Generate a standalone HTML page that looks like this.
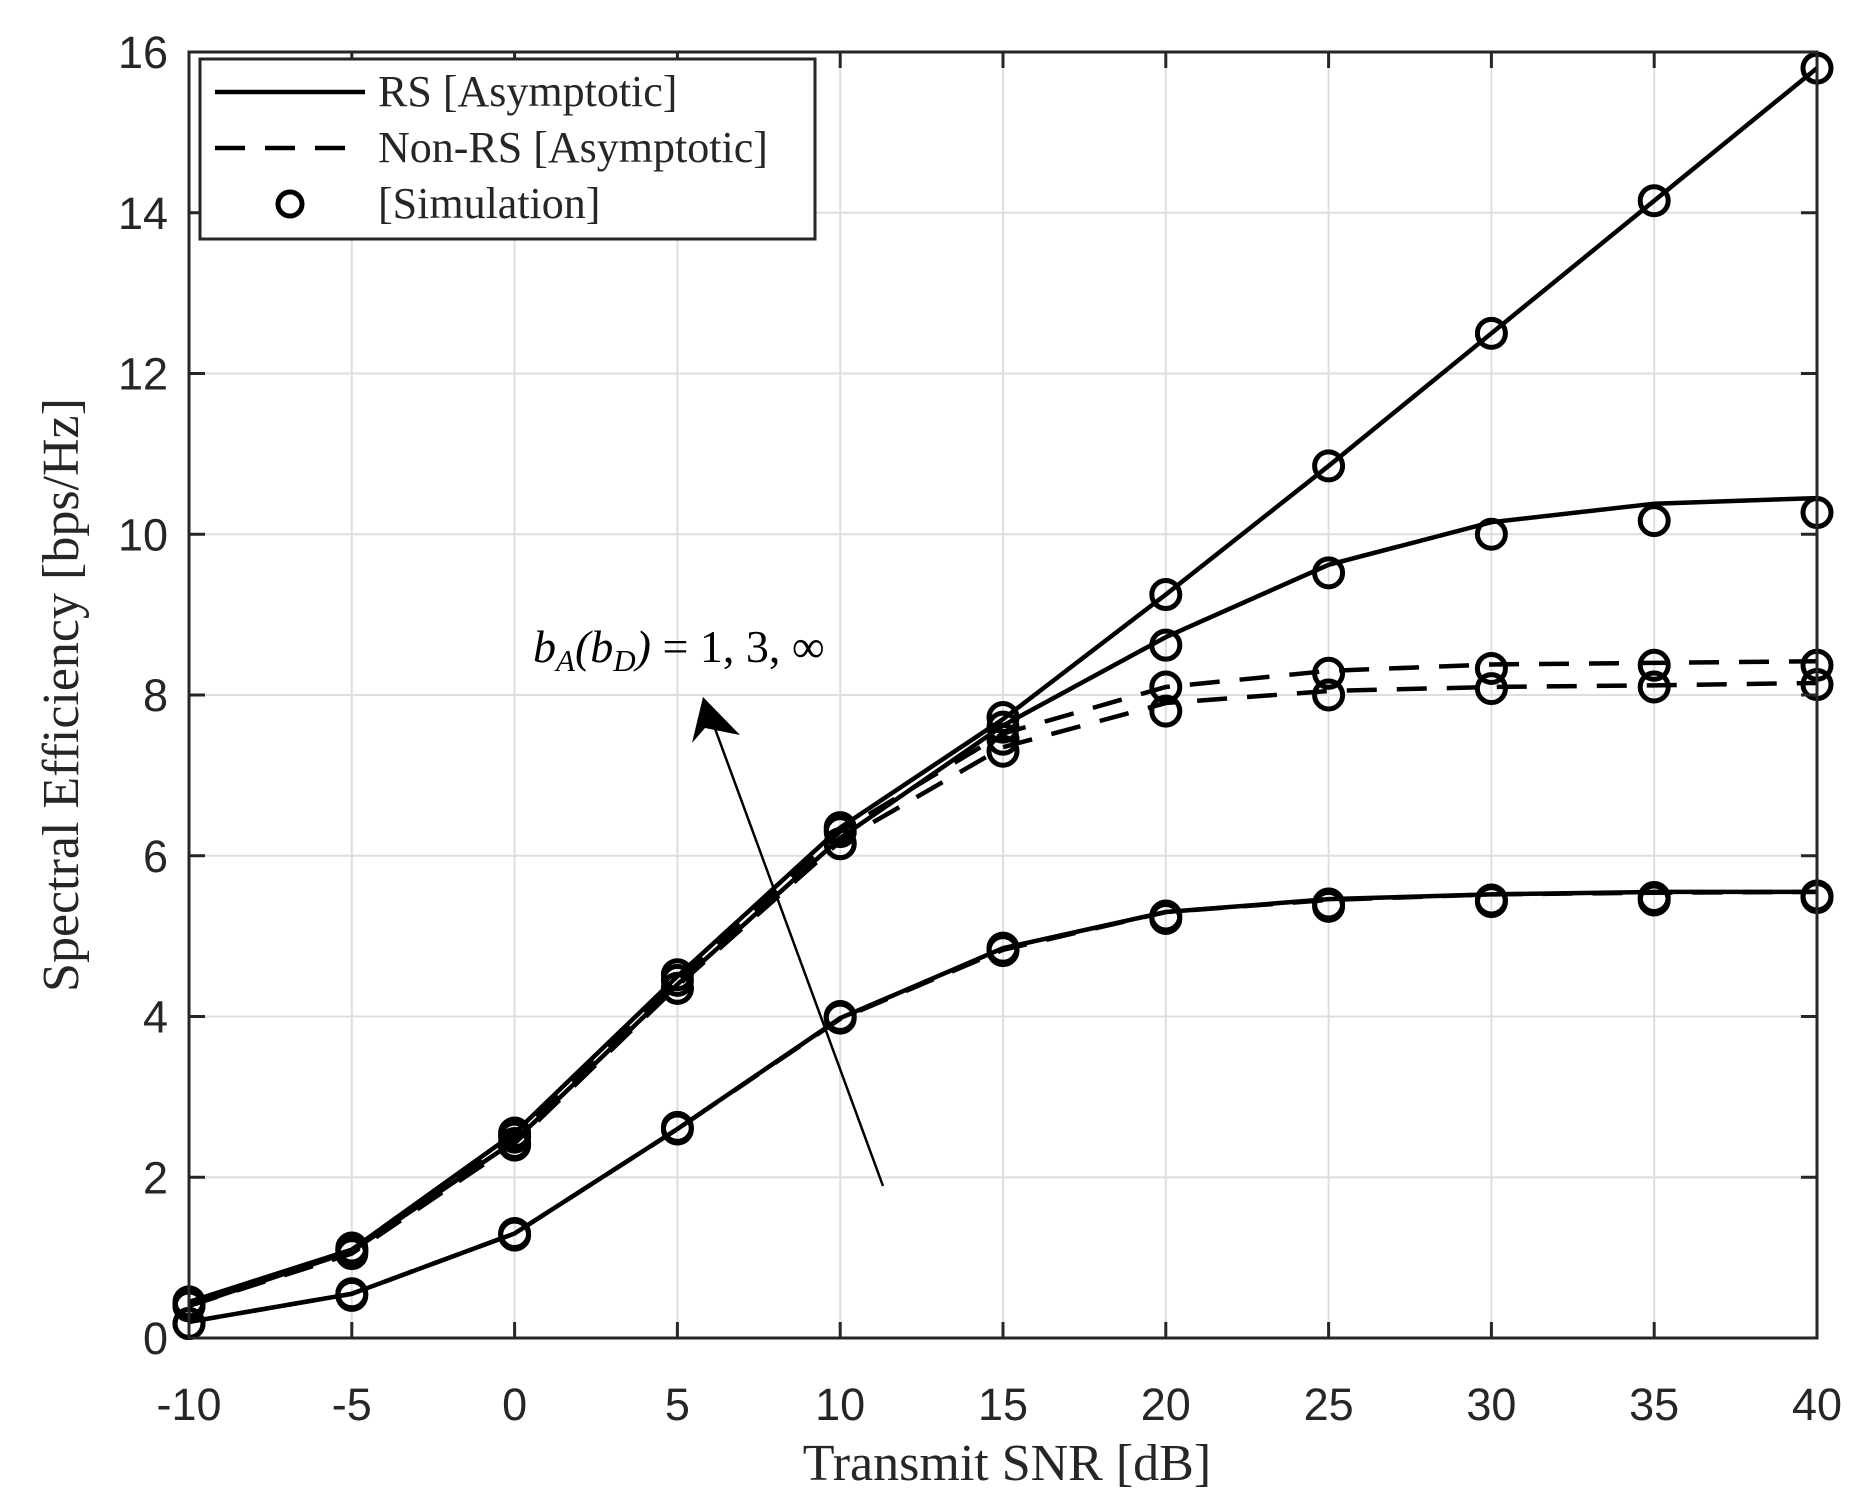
<!DOCTYPE html>
<html><head><meta charset="utf-8"><style>
body{margin:0;background:#fff}
svg{display:block}
.tk{font-family:"Liberation Sans",sans-serif;font-size:45px;fill:#262626}
.sr{font-family:"Liberation Serif",serif;fill:#262626}
</style></head><body>
<svg id="chart" width="1860" height="1502" viewBox="0 0 1860 1502" xmlns="http://www.w3.org/2000/svg">
<g id="grid"></g>
<g id="series"></g>
<rect x="189" y="52" width="1628" height="1286" fill="none" stroke="#262626" stroke-width="3"/>
<g id="ticks"></g>
<text class="sr" x="1007" y="1480" font-size="52" text-anchor="middle">Transmit SNR [dB]</text>
<text class="sr" font-size="52" text-anchor="middle" transform="translate(78,695) rotate(-90)">Spectral Efficiency [bps/Hz]</text>
<g>
<line x1="883" y1="1186" x2="710" y2="715" stroke="#000" stroke-width="2.5"/>
<polygon points="703,697 692,743 705,728 740,735" fill="#000"/>
<text x="533" y="662" font-size="46" font-family="Liberation Serif,serif" font-style="italic" fill="#000">b<tspan font-size="31" dy="9">A</tspan><tspan dy="-9">(b</tspan><tspan font-size="31" dy="9">D</tspan><tspan dy="-9">) </tspan><tspan font-style="normal">= 1, 3, ∞</tspan></text>
</g>
<g>
<rect x="200" y="59" width="615" height="180" fill="#fff" stroke="#262626" stroke-width="3"/>
<line x1="215" y1="92" x2="365" y2="92" stroke="#000" stroke-width="4.5"/>
<text class="sr" x="378" y="106" font-size="44" fill="#000">RS [Asymptotic]</text>
<line x1="215" y1="148" x2="365" y2="148" stroke="#000" stroke-width="4.5" stroke-dasharray="30,20"/>
<text class="sr" x="378" y="162" font-size="44" fill="#000">Non-RS [Asymptotic]</text>
<circle cx="290" cy="204" r="12" fill="none" stroke="#000" stroke-width="5"/>
<text class="sr" x="378" y="218" font-size="44" fill="#000">[Simulation]</text>
</g>
</svg>
<script>
const snr=[-10,-5,0,5,10,15,20,25,30,35,40];
const xTicks=[-10,-5,0,5,10,15,20,25,30,35,40];
const yTicks=[0,2,4,6,8,10,12,14,16];
const rsInf=[0.45,1.1,2.55,4.5,6.35,7.7,9.25,10.85,12.5,14.15,15.8];
const rs3=[0.4,1.08,2.45,4.4,6.22,7.62,8.72,9.62,10.15,10.38,10.45];
const rs1=[0.2,0.55,1.3,2.6,3.98,4.85,5.3,5.46,5.52,5.55,5.55];
const nrInf=[0.43,1.07,2.5,4.45,6.3,7.52,8.1,8.3,8.38,8.4,8.42];
const nr3=[0.4,1.05,2.42,4.38,6.18,7.35,7.9,8.05,8.1,8.12,8.15];
const nr1=[0.2,0.55,1.3,2.6,3.97,4.83,5.3,5.45,5.52,5.54,5.55];
const simRsInf=[0.45,1.12,2.55,4.52,6.35,7.72,9.25,10.85,12.5,14.15,15.8];
const simRs3=[0.4,1.08,2.42,4.35,6.15,7.6,8.62,9.52,10.0,10.17,10.27];
const simRs1=[0.18,0.55,1.3,2.62,4.0,4.85,5.25,5.4,5.45,5.48,5.5];
const simNrInf=[0.42,1.1,2.5,4.45,6.3,7.45,8.1,8.27,8.33,8.37,8.37];
const simNr3=[0.4,1.05,2.4,4.35,6.15,7.3,7.8,8.0,8.08,8.1,8.13];
const simNr1=[0.18,0.53,1.28,2.6,3.98,4.82,5.22,5.37,5.43,5.45,5.48];
const NS='http://www.w3.org/2000/svg';
const X0=189,X1=1817,Y0=1338,Y1=52;
const xs=v=>X0+(v+10)/50*(X1-X0);
const ys=v=>Y0-v/16*(Y0-Y1);
function mk(t,a,p){const e=document.createElementNS(NS,t);for(const k in a)e.setAttribute(k,a[k]);p.appendChild(e);return e;}
const grid=document.getElementById('grid'),ticks=document.getElementById('ticks'),ser=document.getElementById('series');
xTicks.forEach(v=>{
 const g=mk('line',{x1:xs(v),x2:xs(v),y1:Y1,y2:Y0,stroke:'#dedede','stroke-width':2},grid);
 
 
 [[Y0,Y0-16],[Y1,Y1+16]].forEach(([a,b])=>{const t=mk('line',{x1:xs(v),x2:xs(v),y1:a,y2:b,stroke:'#262626','stroke-width':3},ticks);
 
 });
 const l=mk('text',{x:xs(v),y:1420,'text-anchor':'middle',class:'tk'},ticks);l.textContent=v;
 
 
});
yTicks.forEach(v=>{
 const g=mk('line',{x1:X0,x2:X1,y1:ys(v),y2:ys(v),stroke:'#dedede','stroke-width':2},grid);
 
 
 [[X0,X0+16],[X1,X1-16]].forEach(([a,b])=>{const t=mk('line',{x1:a,x2:b,y1:ys(v),y2:ys(v),stroke:'#262626','stroke-width':3},ticks);
 
 });
 const l=mk('text',{x:168,y:ys(v)+16,'text-anchor':'end',class:'tk'},ticks);l.textContent=v;
 
 
});
function line(arr,dash,name){
 const p=mk('polyline',{points:arr.map((v,i)=>xs(snr[i])+','+ys(v)).join(' '),fill:'none',stroke:'#000','stroke-width':4.5,'stroke-dasharray':dash?'30,20':'none'},ser);
 
 
}
function pts(arr,name){arr.forEach((v,i)=>{
 const c=mk('circle',{cx:xs(snr[i]),cy:ys(v),r:14,fill:'none',stroke:'#000','stroke-width':5},ser);
 
 
});}
line(nrInf,true,'nonrs-binf-line');line(nr3,true,'nonrs-b3-line');line(nr1,true,'nonrs-b1-line');
line(rsInf,false,'rs-binf-line');line(rs3,false,'rs-b3-line');line(rs1,false,'rs-b1-line');
pts(simRsInf,'sim-rs-binf');pts(simRs3,'sim-rs-b3');pts(simRs1,'sim-rs-b1');
pts(simNrInf,'sim-nonrs-binf');pts(simNr3,'sim-nonrs-b3');pts(simNr1,'sim-nonrs-b1');
</script>
</body></html>
